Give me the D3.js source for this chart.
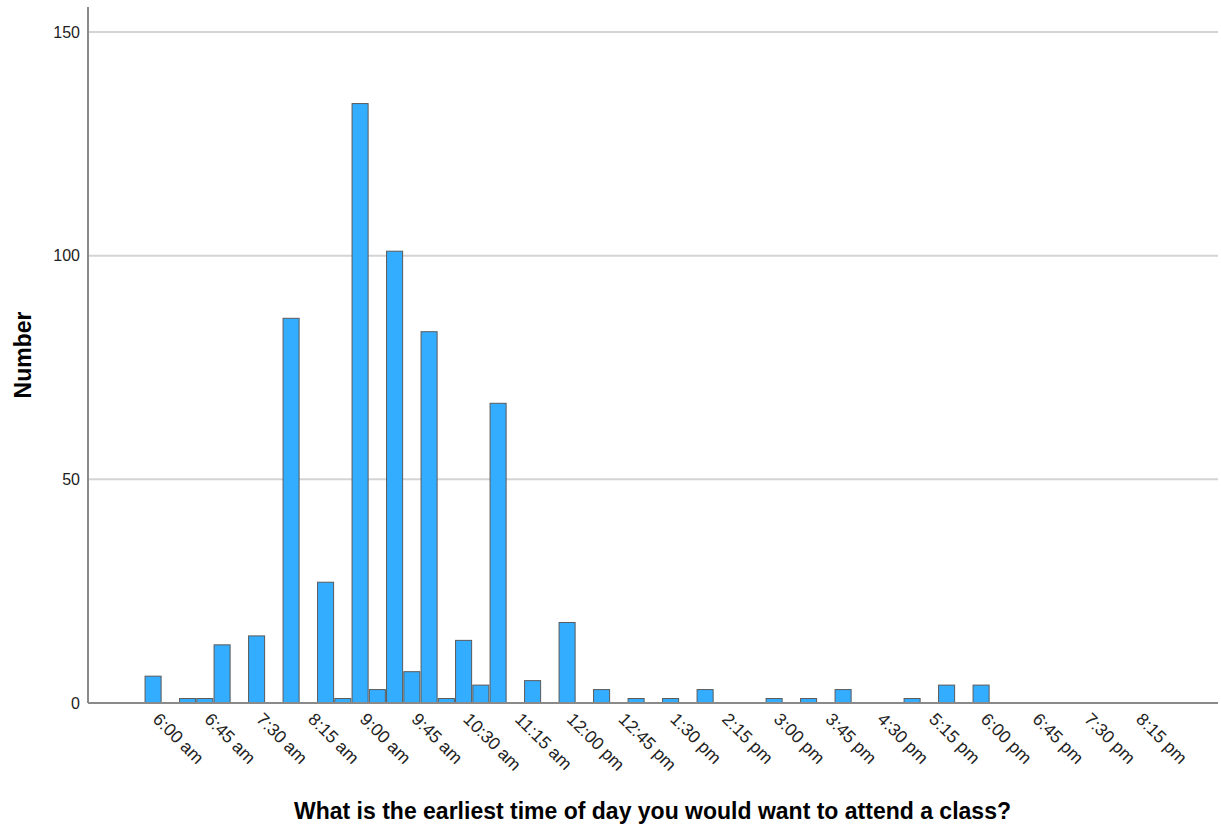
<!DOCTYPE html>
<html>
<head>
<meta charset="utf-8">
<script src="https://cdn.jsdelivr.net/npm/d3@7/dist/d3.min.js"></script>
<style>
  html, body { margin: 0; padding: 0; background: #fff; }
  svg { display: block; font-family: Arial, "Liberation Sans", sans-serif; }
</style>
</head>
<body>
<svg id="chart" width="1221" height="832"></svg>
<script>
// ---- data ----
const times = ["6:00 am","6:30 am","6:45 am","7:00 am","7:30 am","8:00 am","8:30 am","8:45 am",
  "9:00 am","9:15 am","9:30 am","9:45 am","10:00 am","10:15 am","10:30 am","10:45 am","11:00 am",
  "11:30 am","12:00 pm","12:30 pm","1:00 pm","1:30 pm","2:00 pm","3:00 pm","3:30 pm","4:00 pm",
  "5:00 pm","5:30 pm","6:00 pm"];
const counts = [6,1,1,13,15,86,27,1,134,3,101,7,83,1,14,4,67,5,18,3,1,1,3,1,1,3,1,4,4];
const tickLabels = ["6:00 am","6:45 am","7:30 am","8:15 am","9:00 am","9:45 am","10:30 am","11:15 am",
  "12:00 pm","12:45 pm","1:30 pm","2:15 pm","3:00 pm","3:45 pm","4:30 pm","5:15 pm","6:00 pm",
  "6:45 pm","7:30 pm","8:15 pm"];
const yTicks = [0, 50, 100, 150];
const xTitle = "What is the earliest time of day you would want to attend a class?";
const yTitle = "Number";

function toMin(s) {
  const [hm, ap] = s.split(" ");
  let [h, m] = hm.split(":").map(Number);
  if (ap === "pm" && h !== 12) h += 12;
  if (ap === "am" && h === 12) h = 0;
  return h * 60 + m;
}

const data = times.map((t, i) => ({ t: toMin(t), v: counts[i] }));

const svg = d3.select("#chart");
const pLeft = 88, pRight = 1218, pTop = 7, pBottom = 703;

const x = d3.scaleLinear().domain([303.4, 1286]).range([pLeft, pRight]);
const y = d3.scaleLinear().domain([0, 150]).range([pBottom, 32]);

// gridlines
svg.append("g").selectAll("line")
  .data(yTicks.filter(d => d > 0))
  .join("line")
  .attr("x1", pLeft).attr("x2", pRight)
  .attr("y1", d => y(d)).attr("y2", d => y(d))
  .attr("stroke", "#d4d4d4").attr("stroke-width", 2);

// y tick labels
svg.append("g").selectAll("text")
  .data(yTicks)
  .join("text")
  .attr("x", 80).attr("y", d => y(d))
  .attr("dy", "0.36em")
  .attr("text-anchor", "end")
  .attr("font-size", 16)
  .attr("fill", "#222")
  .text(d => d);

// bars
const slot = x(15) - x(0);
const bw = slot - 1.2;
svg.append("g").selectAll("rect")
  .data(data)
  .join("rect")
  .attr("x", d => x(d.t) - bw / 2)
  .attr("y", d => y(d.v))
  .attr("width", bw)
  .attr("height", d => y(0) - y(d.v))
  .attr("fill", "#33adff")
  .attr("stroke", "#5a5a5a")
  .attr("stroke-width", 1);

// axes lines
svg.append("line")
  .attr("x1", pLeft).attr("x2", pLeft).attr("y1", pTop).attr("y2", pBottom)
  .attr("stroke", "#8a8a8a").attr("stroke-width", 2);
svg.append("line")
  .attr("x1", pLeft).attr("x2", pRight).attr("y1", pBottom).attr("y2", pBottom)
  .attr("stroke", "#8a8a8a").attr("stroke-width", 2);

// x tick labels
svg.append("g").selectAll("text")
  .data(tickLabels)
  .join("text")
  .attr("transform", d => `translate(${x(toMin(d)) + 8},${pBottom + 8}) rotate(45)`)
  .attr("text-anchor", "start")
  .attr("dy", "0.75em")
  .attr("font-size", 17.5)
  .attr("fill", "#222")
  .text(d => d);

// titles
svg.append("text")
  .attr("x", 652.5).attr("y", 819)
  .attr("text-anchor", "middle")
  .attr("font-size", 23).attr("font-weight", "bold")
  .attr("fill", "#000")
  .text(xTitle);

svg.append("text")
  .attr("transform", "translate(31,355) rotate(-90)")
  .attr("text-anchor", "middle")
  .attr("font-size", 23).attr("font-weight", "bold")
  .attr("fill", "#000")
  .text(yTitle);
</script>
</body>
</html>
